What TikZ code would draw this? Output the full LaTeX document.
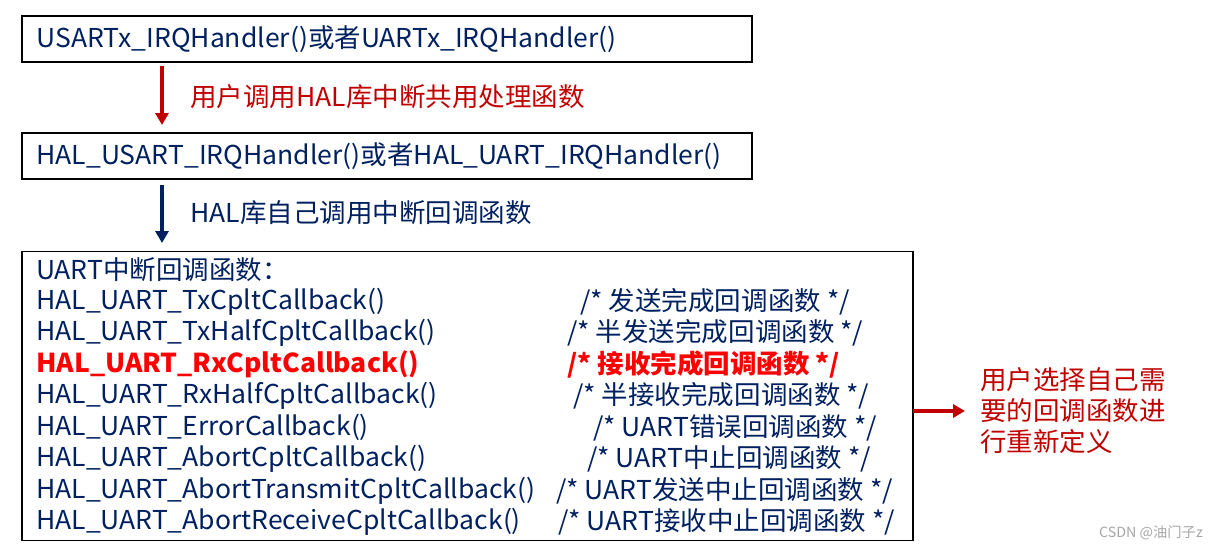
\documentclass[tikz,border=0pt]{standalone}
\usepackage{fontspec}
\newfontfamily\cjk[FakeStretch=1.02]{Noto Sans CJK SC}
\usepackage{xcolor}
\usepackage{tikz}
\usetikzlibrary{arrows.meta, positioning}

\definecolor{halazul}{RGB}{0,32,96}
\definecolor{userred}{RGB}{192,0,0}
\definecolor{cbred}{RGB}{255,0,0}

\begin{document}
\begin{tikzpicture}[
        x=1pt, y=-1pt,
        funcbox/.style={rectangle, draw=black, line width=1.5pt, outer sep=0pt, minimum width=730pt, minimum height=46pt, inner xsep=14.5pt, inner ysep=0pt, text width=701pt, align=left, text=halazul, font=\cjk\fontsize{26}{31}\selectfont},
        linha/.style={inner sep=0pt, anchor=west, text=halazul, font=\cjk\fontsize{26}{31}\selectfont},
        rotulo/.style={inner sep=0pt, anchor=west, font=\cjk\fontsize{26}{31}\selectfont},
        seta/.style={line width=4pt, -{Triangle[length=12pt, width=13pt]}}
    ]
        \useasboundingbox (0,0) rectangle (1214,552);

        % Caixas
        \node[funcbox, anchor=north west] (irq) at (22,16) {USARTx\_IRQHandler()或者UARTx\_IRQHandler()};
        \node[funcbox, below=71pt of irq] (halirq) {HAL\_USART\_IRQHandler()或者HAL\_UART\_IRQHandler()};
        \node[rectangle, draw=black, line width=1.5pt, outer sep=0pt, minimum width=891pt, minimum height=289pt, below=72.5pt of halirq.south west, anchor=north west] (callbacks) {};

        % Lista de callbacks
        \node[linha] (cbtitle) at (36,270) {UART中断回调函数：};
        \foreach \fn/\cm/\cx/\cor/\peso [count=\i] in {
            TxCpltCallback()/发送完成回调函数/580/halazul/\mdseries,
            TxHalfCpltCallback()/半发送完成回调函数/567/halazul/\mdseries,
            RxCpltCallback()/接收完成回调函数/567/cbred/\bfseries,
            RxHalfCpltCallback()/半接收完成回调函数/573/halazul/\mdseries,
            ErrorCallback()/UART错误回调函数/593/halazul/\mdseries,
            AbortCpltCallback()/UART中止回调函数/587/halazul/\mdseries,
            AbortTransmitCpltCallback()/UART发送中止回调函数/556/halazul/\mdseries,
            AbortReceiveCpltCallback()/UART接收中止回调函数/558/halazul/\mdseries} {
            \node[linha, text=\cor, font=\cjk\fontsize{26}{31}\selectfont\peso] (fn\i) at (36,{270+31.5*\i}) {HAL\_UART\_\fn};
            \node[linha, text=\cor, font=\cjk\fontsize{26}{31}\selectfont\peso] (cm\i) at (\cx,{270+31.5*\i}) {/* \cm{} */};
        }

        % Rótulos
        \node[rotulo, text=userred] (userlbl) at (190,97) {用户调用HAL库中断共用处理函数};
        \node[rotulo, text=halazul] (hallbl) at (190,213) {HAL库自己调用中断回调函数};
        \node[rotulo, text=userred, align=left] (choice) at (980,411) {用户选择自己需\\要的回调函数进\\行重新定义};
        \node[inner sep=0pt, anchor=east, text=black!35, font=\cjk\fontsize{14}{16}\selectfont] (csdn) at (1203,533) {CSDN @油门子z};

        % Conexões
        \draw[seta, draw=userred, shorten <=4pt, shorten >=8pt] ([xshift=140pt]irq.south west) -- ([xshift=140pt]halirq.north west);
        \draw[seta, draw=halazul, shorten <=6pt, shorten >=8.5pt] ([xshift=140pt]halirq.south west) -- ([xshift=140pt]callbacks.north west);
        \draw[seta, draw=userred, shorten >=15pt] (callbacks.east |- choice.west) -- (choice.west);
    \end{tikzpicture}
\end{document}
